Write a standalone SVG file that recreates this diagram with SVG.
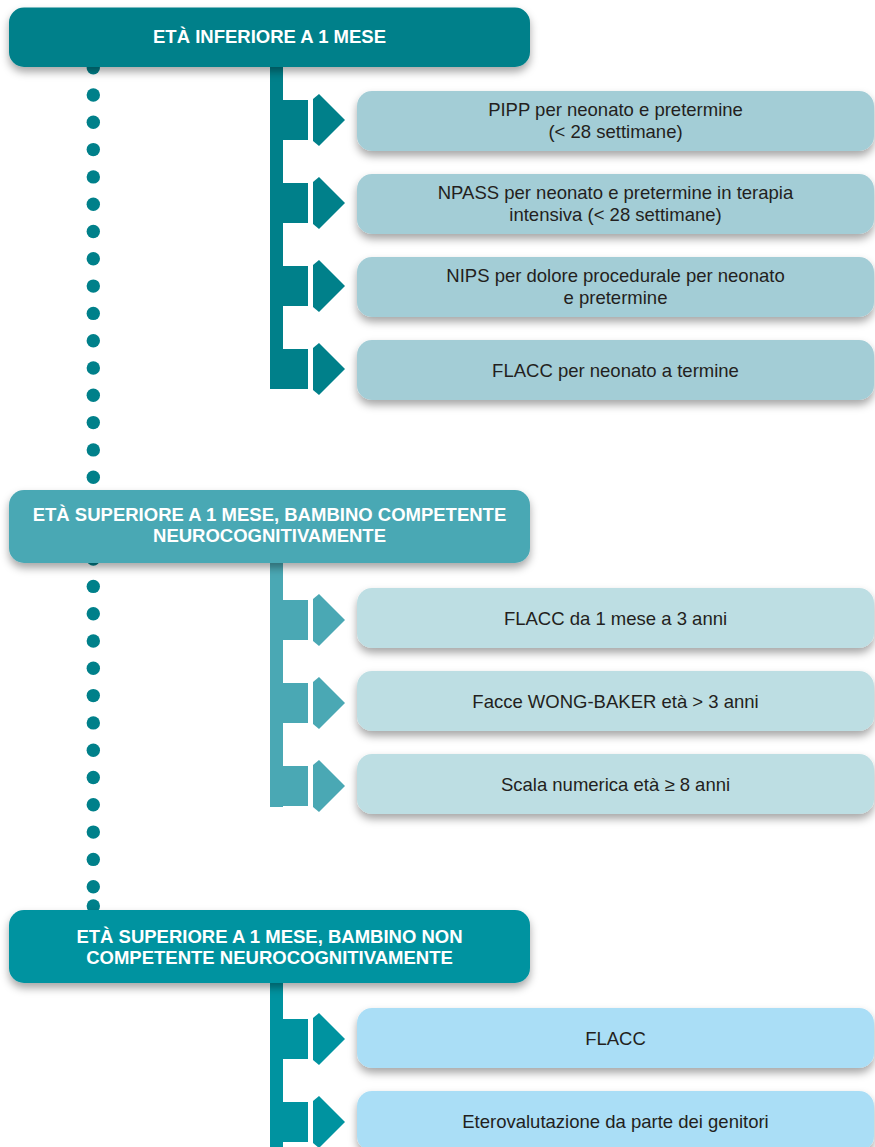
<svg xmlns="http://www.w3.org/2000/svg" width="875" height="1147" viewBox="0 0 875 1147">
<defs>
<filter id="sh" x="-10%" y="-30%" width="120%" height="170%">
<feDropShadow dx="0" dy="5" stdDeviation="4" flood-color="#000" flood-opacity="0.35"/>
</filter>
<style>
.hd{font-family:"Liberation Sans",Arial,sans-serif;font-weight:bold;font-size:18.5px;fill:#fff;text-anchor:middle}
.bt{font-family:"Liberation Sans",Arial,sans-serif;font-size:18.5px;fill:#231f20;text-anchor:middle}
.dot{fill:#00808a}
.g1{fill:#00808a}.g2{fill:#4aa8b4}.g3{fill:#0093a0}
.b1{fill:#a3cdd6}.b2{fill:#bddee3}.b3{fill:#aadef6}
</style>
</defs>
<rect width="875" height="1147" fill="#fff"/>
<g id="dots">
<circle class="dot" cx="93.3" cy="67.7" r="6.7"/>
<circle class="dot" cx="93.3" cy="95" r="6.7"/>
<circle class="dot" cx="93.3" cy="122.3" r="6.7"/>
<circle class="dot" cx="93.3" cy="149.6" r="6.7"/>
<circle class="dot" cx="93.3" cy="176.9" r="6.7"/>
<circle class="dot" cx="93.3" cy="204.2" r="6.7"/>
<circle class="dot" cx="93.3" cy="231.5" r="6.7"/>
<circle class="dot" cx="93.3" cy="258.8" r="6.7"/>
<circle class="dot" cx="93.3" cy="286.1" r="6.7"/>
<circle class="dot" cx="93.3" cy="313.4" r="6.7"/>
<circle class="dot" cx="93.3" cy="340.7" r="6.7"/>
<circle class="dot" cx="93.3" cy="368" r="6.7"/>
<circle class="dot" cx="93.3" cy="395.3" r="6.7"/>
<circle class="dot" cx="93.3" cy="422.6" r="6.7"/>
<circle class="dot" cx="93.3" cy="449.9" r="6.7"/>
<circle class="dot" cx="93.3" cy="477.2" r="6.7"/>
<circle class="dot" cx="93.3" cy="504.5" r="6.7"/>
<circle class="dot" cx="93.3" cy="531.8" r="6.7"/>
<circle class="dot" cx="93.3" cy="559.1" r="6.7"/>
<circle class="dot" cx="93.3" cy="586.4" r="6.7"/>
<circle class="dot" cx="93.3" cy="613.7" r="6.7"/>
<circle class="dot" cx="93.3" cy="641" r="6.7"/>
<circle class="dot" cx="93.3" cy="668.3" r="6.7"/>
<circle class="dot" cx="93.3" cy="695.6" r="6.7"/>
<circle class="dot" cx="93.3" cy="722.9" r="6.7"/>
<circle class="dot" cx="93.3" cy="750.2" r="6.7"/>
<circle class="dot" cx="93.3" cy="777.5" r="6.7"/>
<circle class="dot" cx="93.3" cy="804.8" r="6.7"/>
<circle class="dot" cx="93.3" cy="832.1" r="6.7"/>
<circle class="dot" cx="93.3" cy="859.4" r="6.7"/>
<circle class="dot" cx="93.3" cy="886.7" r="6.7"/>
<circle class="dot" cx="93.3" cy="906" r="6.7"/>
</g>
<g id="connectors">
<rect class="g1" x="270" y="60" width="13" height="329"/>
<rect class="g1" x="270" y="100" width="38" height="40"/>
<polygon class="g1" points="313,99 319,94 345,120 319,146 313,141"/>
<rect class="g1" x="270" y="183" width="38" height="40"/>
<polygon class="g1" points="313,182 319,177 345,203 319,229 313,224"/>
<rect class="g1" x="270" y="266" width="38" height="40"/>
<polygon class="g1" points="313,265 319,260 345,286 319,312 313,307"/>
<rect class="g1" x="270" y="349" width="38" height="40"/>
<polygon class="g1" points="313,348 319,343 345,369 319,395 313,390"/>

<rect class="g2" x="270" y="555" width="13" height="252"/>
<rect class="g2" x="270" y="600" width="38" height="40"/>
<polygon class="g2" points="313,599 319,594 345,620 319,646 313,641"/>
<rect class="g2" x="270" y="683" width="38" height="40"/>
<polygon class="g2" points="313,682 319,677 345,703 319,729 313,724"/>
<rect class="g2" x="270" y="766" width="38" height="40"/>
<polygon class="g2" points="313,765 319,760 345,786 319,812 313,807"/>

<rect class="g3" x="270" y="975" width="13" height="172"/>
<rect class="g3" x="270" y="1019" width="38" height="40"/>
<polygon class="g3" points="313,1018 319,1013 345,1039 319,1065 313,1060"/>
<rect class="g3" x="270" y="1102" width="38" height="40"/>
<polygon class="g3" points="313,1101 319,1096 345,1122 319,1148 313,1143"/>
</g>
<g id="header1">
<rect class="g1" x="9" y="7.5" width="521" height="59.5" rx="15" filter="url(#sh)"/>
<text class="hd" x="269.5" y="43.3">ETÀ INFERIORE A 1 MESE</text>
</g>
<g id="box-pipp">
<rect class="b1" x="357" y="91" width="517" height="60" rx="15" filter="url(#sh)"/>
<text class="bt" x="615.5" y="116">PIPP per neonato e pretermine</text>
<text class="bt" x="615.5" y="137.5">(&lt; 28 settimane)</text>
</g>
<g id="box-npass">
<rect class="b1" x="357" y="174" width="517" height="60" rx="15" filter="url(#sh)"/>
<text class="bt" x="615.5" y="199">NPASS per neonato e pretermine in terapia</text>
<text class="bt" x="615.5" y="220.5">intensiva (&lt; 28 settimane)</text>
</g>
<g id="box-nips">
<rect class="b1" x="357" y="257" width="517" height="60" rx="15" filter="url(#sh)"/>
<text class="bt" x="615.5" y="282">NIPS per dolore procedurale per neonato</text>
<text class="bt" x="615.5" y="303.5">e pretermine</text>
</g>
<g id="box-flacc1">
<rect class="b1" x="357" y="340" width="517" height="60" rx="15" filter="url(#sh)"/>
<text class="bt" x="615.5" y="376.5">FLACC per neonato a termine</text>
</g>
<g id="header2">
<rect class="g2" x="9" y="490" width="521" height="73" rx="15" filter="url(#sh)"/>
<text class="hd" x="269.5" y="521">ETÀ SUPERIORE A 1 MESE, BAMBINO COMPETENTE</text>
<text class="hd" x="269.5" y="542.3">NEUROCOGNITIVAMENTE</text>
</g>
<g id="box-flacc2">
<rect class="b2" x="357" y="588" width="517" height="60" rx="15" filter="url(#sh)"/>
<text class="bt" x="615.5" y="624.5">FLACC da 1 mese a 3 anni</text>
</g>
<g id="box-wong">
<rect class="b2" x="357" y="671" width="517" height="60" rx="15" filter="url(#sh)"/>
<text class="bt" x="615.5" y="707.5">Facce WONG-BAKER età &gt; 3 anni</text>
</g>
<g id="box-scala">
<rect class="b2" x="357" y="754" width="517" height="60" rx="15" filter="url(#sh)"/>
<text class="bt" x="615.5" y="790.5">Scala numerica età ≥ 8 anni</text>
</g>
<g id="header3">
<rect class="g3" x="9" y="910" width="521" height="73" rx="15" filter="url(#sh)"/>
<text class="hd" x="269.5" y="942.7">ETÀ SUPERIORE A 1 MESE, BAMBINO NON</text>
<text class="hd" x="269.5" y="963.5">COMPETENTE NEUROCOGNITIVAMENTE</text>
</g>
<g id="box-flacc3">
<rect class="b3" x="357" y="1008" width="517" height="60" rx="15" filter="url(#sh)"/>
<text class="bt" x="615.5" y="1044.5">FLACC</text>
</g>
<g id="box-etero">
<rect class="b3" x="357" y="1091" width="517" height="60" rx="15" filter="url(#sh)"/>
<text class="bt" x="615.5" y="1127.5">Eterovalutazione da parte dei genitori</text>
</g>
</svg>
